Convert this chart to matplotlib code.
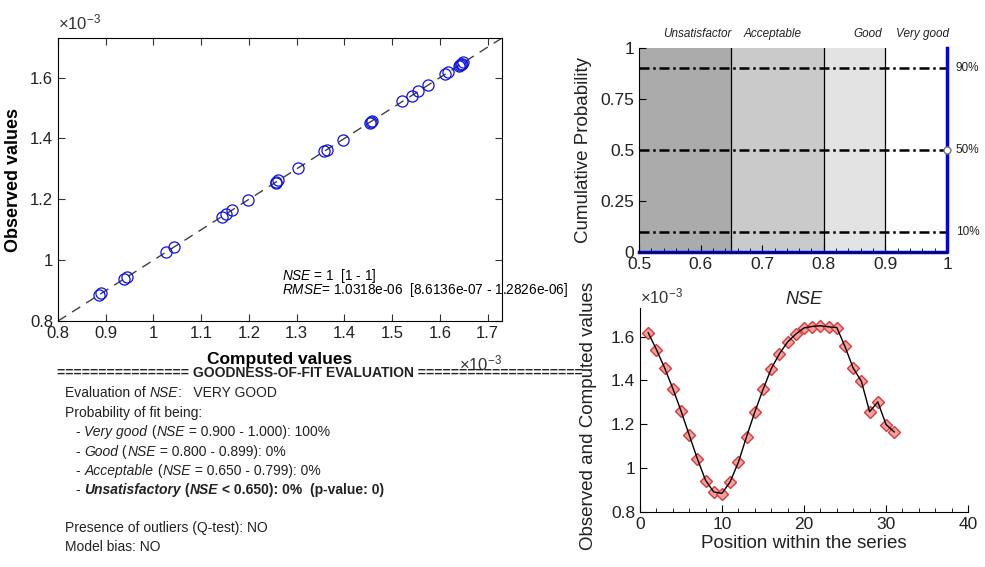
import numpy as np
import matplotlib.pyplot as plt
from matplotlib.ticker import FuncFormatter, AutoMinorLocator, MultipleLocator

plt.rcParams['font.family'] = ['Liberation Sans', 'DejaVu Sans']
plt.rcParams['mathtext.fontset'] = 'custom'
plt.rcParams['mathtext.rm'] = 'Liberation Sans'
plt.rcParams['mathtext.it'] = 'Liberation Sans:italic'

# observed / computed series (x 1e-3)
observed = [1.618, 1.540, 1.458, 1.362, 1.262, 1.150, 1.043, 0.943, 0.892, 0.884,
            0.937, 1.028, 1.143, 1.255, 1.359, 1.452, 1.522, 1.574, 1.612, 1.638,
            1.645, 1.650, 1.643, 1.640, 1.555, 1.455, 1.395, 1.258, 1.303, 1.198, 1.166]
computed = [1.617, 1.541, 1.457, 1.363, 1.261, 1.151, 1.042, 0.944, 0.891, 0.885,
            0.938, 1.027, 1.144, 1.256, 1.358, 1.453, 1.521, 1.575, 1.611, 1.639,
            1.646, 1.649, 1.644, 1.641, 1.554, 1.456, 1.396, 1.257, 1.302, 1.199, 1.165]
observed = np.array(observed) * 1e-3
computed = np.array(computed) * 1e-3
position = np.arange(1, len(observed) + 1)

# NSE classes
class_edges = [0.5, 0.65, 0.8, 0.9, 1.0]
class_names = ['Unsatisfactor', 'Acceptable', 'Good', 'Very good']
class_colors = ['#ababab', '#cacaca', '#e3e3e3', '#ffffff']
label_x = [0.594, 0.7175, 0.872, 0.961]
prob_levels = [0.1, 0.5, 0.9]
prob_labels = ['10%', '50%', '90%']
nse_value = 1.0

fig = plt.figure(figsize=(9.85, 5.67), dpi=100)
W, H = 985, 567


def box(l, t, r, b):
    return [l / W, 1 - b / H, (r - l) / W, (b - t) / H]


milli = FuncFormatter(lambda v, p: '%g' % round(v * 1e3, 6))
exp_lbl = r'$\times10^{-3}$'

# scatter observed vs computed
ax1 = fig.add_axes(box(58, 38, 502, 321))
lims = [0.8e-3, 1.73e-3]
ax1.plot(lims, lims, '--', color='#404040', lw=1, dashes=(7, 5))
ax1.plot(computed, observed, 'o', mfc='none', mec='#1010e0', ms=8, mew=0.9)
ax1.set_xlim(lims)
ax1.set_ylim(lims)
ax1.xaxis.set_major_locator(MultipleLocator(0.1e-3))
ax1.yaxis.set_major_locator(MultipleLocator(0.2e-3))
ax1.xaxis.set_major_formatter(milli)
ax1.yaxis.set_major_formatter(milli)
ax1.tick_params(direction='in', top=True, right=True, labelsize=12, length=5,
                colors='#333333', labelcolor='#222222')
ax1.text(0.0, 1.02, exp_lbl, transform=ax1.transAxes, fontsize=12, va='bottom',
         color='#333333')
ax1.text(1.0, -0.115, exp_lbl, transform=ax1.transAxes, fontsize=12, va='top',
         ha='right', color='#333333')
ax1.set_xlabel('Computed values', fontsize=12.5, fontweight='bold', labelpad=8)
ax1.set_ylabel('Observed values', fontsize=13, fontweight='bold', labelpad=6)
ax1.text(0.504, 0.158, r'$NSE$ = 1  [1 - 1]', transform=ax1.transAxes, fontsize=9.8,
         va='center')
ax1.text(0.504, 0.11, r'$RMSE$= 1.0318e-06  [8.6136e-07 - 1.2826e-06]',
         transform=ax1.transAxes, fontsize=9.8, va='center', clip_on=False)

# cumulative probability of NSE
ax2 = fig.add_axes(box(639, 48, 947, 252))
for i in range(4):
    ax2.axvspan(class_edges[i], class_edges[i + 1], color=class_colors[i], lw=0)
    ax2.text(label_x[i], 1.07, class_names[i], ha='center', va='center', fontsize=8.5,
             style='italic', color='#222222')
for e in class_edges[1:-1]:
    ax2.axvline(e, color='black', lw=0.9)
for p, lab in zip(prob_levels, prob_labels):
    ax2.plot([0.5, 1.0], [p, p], color='black', lw=1.8, dashes=(4, 1.5, 1, 1.5))
    ax2.text(1.014, p, lab, va='center', ha='left', fontsize=8.5, color='#222222')
ax2.plot([0.5, nse_value, nse_value], [0, 0, 1], color='#0000ee', lw=2.5, clip_on=False)
ax2.plot([nse_value], [0.5], 'o', mfc='white', mec='#777777', ms=5, clip_on=False, zorder=5)
ax2.set_xlim(0.5, 1)
ax2.set_ylim(0, 1)
ax2.set_yticks([0, 0.25, 0.5, 0.75, 1])
ax2.set_yticklabels(['0', '0.25', '0.5', '0.75', '1'])
ax2.set_xticks([0.5, 0.6, 0.7, 0.8, 0.9, 1])
ax2.set_xticklabels(['0.5', '0.6', '0.7', '0.8', '0.9', '1'])
ax2.xaxis.set_minor_locator(AutoMinorLocator(5))
ax2.tick_params(direction='in', labelsize=12.5, length=5, labelcolor='#222222')
ax2.tick_params(which='minor', direction='in', length=3)
ax2.spines['top'].set_visible(False)
ax2.spines['right'].set_visible(False)
ax2.set_ylabel('Cumulative Probability', fontsize=13.5, labelpad=6, color='#222222')

# series plot
ax3 = fig.add_axes(box(640, 308, 968, 512))
ax3.plot(position, observed, 'D', mfc='#f2a0a0', mec='#d83a3a', ms=6, mew=1)
ax3.plot(position, computed, '-', color='black', lw=1)
ax3.set_xlim(0, 40)
ax3.set_ylim(lims)
ax3.yaxis.set_major_locator(MultipleLocator(0.2e-3))
ax3.xaxis.set_major_locator(MultipleLocator(10))
ax3.xaxis.set_minor_locator(AutoMinorLocator(5))
ax3.yaxis.set_major_formatter(milli)
ax3.tick_params(direction='in', labelsize=12.5, length=5, labelcolor='#222222')
ax3.tick_params(which='minor', direction='in', length=3)
ax3.text(0.0, 1.01, exp_lbl, transform=ax3.transAxes, fontsize=12, va='bottom',
         color='#333333')
ax3.spines['top'].set_visible(False)
ax3.spines['right'].set_visible(False)
ax3.set_title('NSE', fontsize=13, style='italic', pad=3, color='#222222')
ax3.set_xlabel('Position within the series', fontsize=13.5, labelpad=2, color='#222222')
ax3.set_ylabel('Observed and Computed values', fontsize=13.5, color='#222222')
ax3.yaxis.set_label_coords(-0.13, 0.47)

# goodness-of-fit text block
fig.text(57 / W, 1 - 373 / H,
         '=' * 16 + ' GOODNESS-OF-FIT EVALUATION ' + '=' * 20,
         fontsize=10, fontweight='bold', va='center', ha='left', color='#222222')

fig.canvas.draw()
renderer = fig.canvas.get_renderer()


def rich(x, y, parts, size=10):
    # parts: (text, weight, style)
    xp = x
    for s, wgt, sty in parts:
        t = fig.text(xp / W, 1 - y / H, s, fontsize=size, fontweight=wgt, style=sty,
                     va='center', ha='left', color='#222222')
        bb = t.get_window_extent(renderer)
        xp += bb.width


rows = [
    (65, 393, [('Evaluation of ', 'normal', 'normal'), ('NSE', 'normal', 'italic'),
               (':   VERY GOOD', 'normal', 'normal')]),
    (65, 413, [('Probability of fit being:', 'normal', 'normal')]),
    (76, 432, [('- ', 'normal', 'normal'), ('Very good', 'normal', 'italic'),
               (' (', 'normal', 'normal'), ('NSE', 'normal', 'italic'),
               (' = 0.900 - 1.000): 100%', 'normal', 'normal')]),
    (76, 452, [('- ', 'normal', 'normal'), ('Good', 'normal', 'italic'),
               (' (', 'normal', 'normal'), ('NSE', 'normal', 'italic'),
               (' = 0.800 - 0.899): 0%', 'normal', 'normal')]),
    (76, 471, [('- ', 'normal', 'normal'), ('Acceptable', 'normal', 'italic'),
               (' (', 'normal', 'normal'), ('NSE', 'normal', 'italic'),
               (' = 0.650 - 0.799): 0%', 'normal', 'normal')]),
    (76, 490, [('- ', 'normal', 'normal'), ('Unsatisfactory', 'bold', 'italic'),
               (' (', 'bold', 'normal'), ('NSE', 'bold', 'italic'),
               (' < 0.650): 0%  (p-value: 0)', 'bold', 'normal')]),
    (65, 528, [('Presence of outliers (Q-test): NO', 'normal', 'normal')]),
    (65, 547, [('Model bias: NO', 'normal', 'normal')]),
]
for x, y, parts in rows:
    rich(x, y, parts)

fig.savefig('out.png', dpi=100)
